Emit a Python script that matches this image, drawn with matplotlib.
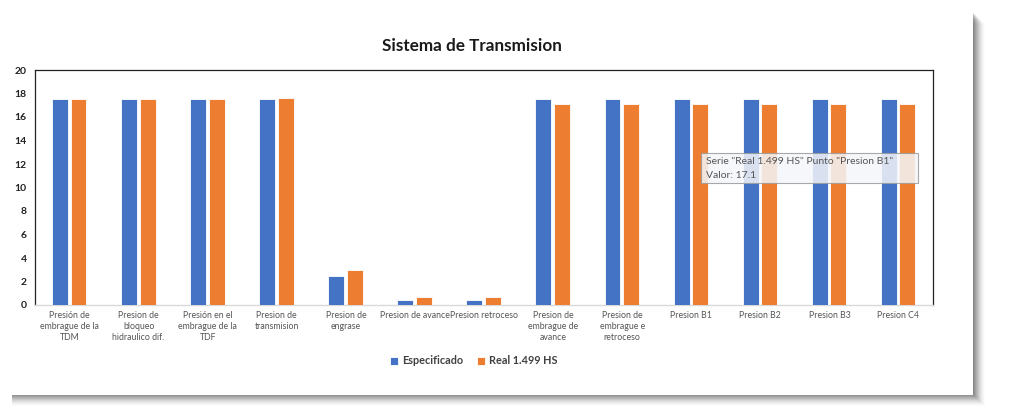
import numpy as np
import matplotlib
matplotlib.use("Agg")
import matplotlib.pyplot as plt
from matplotlib.patches import Rectangle, FancyBboxPatch

plt.rcParams['font.family'] = ['Lato', 'DejaVu Sans']

# data
categorias = [
    "Presión de\nembrague de la\nTDM",
    "Presion de\nbloqueo\nhidraulico dif.",
    "Presión en el\nembrague de la\nTDF",
    "Presion de\ntransmision",
    "Presion de\nengrase",
    "Presion de avance",
    "Presion retroceso",
    "Presion de\nembrague de\navance",
    "Presion de\nembrague e\nretroceso",
    "Presion B1",
    "Presion B2",
    "Presion B3",
    "Presion C4",
]
especificado = [17.5, 17.5, 17.5, 17.5, 2.5, 0.4, 0.4, 17.5, 17.5, 17.5, 17.5, 17.5, 17.5]
real = [17.5, 17.5, 17.5, 17.6, 3.0, 0.7, 0.7, 17.1, 17.1, 17.1, 17.1, 17.1, 17.1]
yticks = [0, 2, 4, 6, 8, 10, 12, 14, 16, 18, 20]

azul = '#4472C4'
naranja = '#ED7D31'

fig = plt.figure(figsize=(10.1, 4.08), dpi=100)
fig.patch.set_facecolor('white')

# card shadow (right and bottom)
for i in range(12):
    a = 0.12 * (1 - i / 12)
    fig.patches.append(Rectangle((12 / 1010, (13 - i) / 408), (962 + i) / 1010, (395 - 13) / 408,
                                 transform=fig.transFigure, facecolor='#303030',
                                 edgecolor='none', alpha=a, zorder=-2))
fig.patches.append(Rectangle((0, 13 / 408), 973 / 1010, 395 / 408,
                             transform=fig.transFigure, facecolor='white',
                             edgecolor='none', zorder=-1))

ax = fig.add_axes([35 / 1010, 1 - 305 / 408, 898 / 1010, 235 / 408])
ax.set_zorder(1)
x = np.arange(len(categorias))
w = 0.23
ax.bar(x - 0.14, especificado, w, color=azul, edgecolor='white', linewidth=0.6, label='Especificado', zorder=3)
ax.bar(x + 0.13, real, w, color=naranja, edgecolor='white', linewidth=0.6, label='Real 1.499 HS', zorder=3)

ax.set_xlim(-0.5, len(categorias) - 0.5)
ax.set_ylim(0, 20)
ax.set_yticks(yticks)
ax.set_yticklabels([str(v) for v in yticks], fontsize=7.5, fontweight='bold', color='#222222')
ax.set_xticks(x)
ax.set_xticklabels(categorias, fontsize=6.3, color='#555555', linespacing=1.35)
ax.tick_params(axis='both', length=0, pad=4)
ax.tick_params(axis='y', pad=6)
for s in ['top', 'right', 'left']:
    ax.spines[s].set_color('#222222')
    ax.spines[s].set_linewidth(0.9)
ax.spines['bottom'].set_color('#d9d9d9')
ax.spines['bottom'].set_linewidth(1.0)

fig.text(472 / 1010, 1 - 46 / 408, 'Sistema de Transmision', ha='center', va='center',
         fontsize=12.3, fontweight='bold', color='#1a1a1a', zorder=2)

leg = fig.legend(loc='center', bbox_to_anchor=(474 / 1010, 1 - 361 / 408), ncol=2,
                 frameon=False, fontsize=7.8, handlelength=0.7, handleheight=0.7,
                 columnspacing=1.3, handletextpad=0.4)
leg.set_zorder(2)
for t in leg.get_texts():
    t.set_fontweight('bold')
    t.set_color('#404040')

# hover tooltip seen in the screenshot
fig.patches.append(FancyBboxPatch((701 / 1010, 1 - 183 / 408), 217 / 1010, 30 / 408,
                                  boxstyle='square,pad=0', transform=fig.transFigure,
                                  facecolor='#f4f6fa', edgecolor='#9a9a9a', linewidth=0.8,
                                  alpha=0.85, zorder=5))
fig.text(706 / 1010, 1 - 162 / 408, 'Serie "Real 1.499 HS" Punto "Presion B1"', fontsize=7.5,
         color='#555555', va='center', zorder=6)
fig.text(706 / 1010, 1 - 176 / 408, 'Valor: 17.1', fontsize=7.5, color='#555555', va='center', zorder=6)

fig.savefig('out.png', dpi=100, facecolor='white')
